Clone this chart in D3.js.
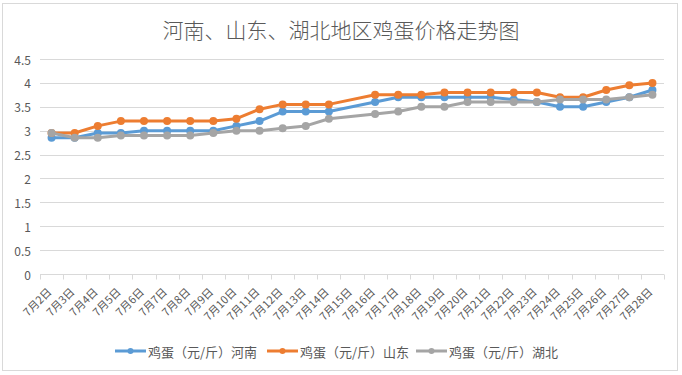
<!DOCTYPE html>
<html>
<head>
<meta charset="utf-8">
<script src="https://cdn.jsdelivr.net/npm/d3@7"></script>
<style>
  body { margin: 0; background: #fff; }
  text { font-family: "Noto Sans CJK SC", "Noto Sans", sans-serif; fill: #595959; }
</style>
</head>
<body>
<svg id="chart" width="682" height="375"></svg>
<script>
var title = "河南、山东、湖北地区鸡蛋价格走势图";
var days = ["7月2日", "7月3日", "7月4日", "7月5日", "7月6日", "7月7日", "7月8日", "7月9日", "7月10日",
  "7月11日", "7月12日", "7月13日", "7月14日", "7月15日", "7月16日", "7月17日", "7月18日", "7月19日",
  "7月20日", "7月21日", "7月22日", "7月23日", "7月24日", "7月25日", "7月26日", "7月27日", "7月28日"];
var henan = [2.85, 2.85, 2.95, 2.95, 3.0, 3.0, 3.0, 3.0, 3.1, 3.2, 3.4, 3.4, 3.4, null, 3.6, 3.7, 3.7, 3.7,
  3.7, 3.7, 3.65, 3.6, 3.5, 3.5, 3.6, 3.7, 3.85];
var shandong = [2.95, 2.95, 3.1, 3.2, 3.2, 3.2, 3.2, 3.2, 3.25, 3.45, 3.55, 3.55, 3.55, null, 3.75, 3.75, 3.75, 3.8,
  3.8, 3.8, 3.8, 3.8, 3.7, 3.7, 3.85, 3.95, 4.0];
var hubei = [2.95, 2.85, 2.85, 2.9, 2.9, 2.9, 2.9, 2.95, 3.0, 3.0, 3.05, 3.1, 3.25, null, 3.35, 3.4, 3.5, 3.5,
  3.6, 3.6, 3.6, 3.6, 3.65, 3.65, 3.65, 3.7, 3.75];
var seriesNames = ["鸡蛋（元/斤）河南", "鸡蛋（元/斤）山东", "鸡蛋（元/斤）湖北"];
var colors = ["#5b9bd5", "#ed7d31", "#a5a5a5"];
var yTicks = [0, 0.5, 1, 1.5, 2, 2.5, 3, 3.5, 4, 4.5];

var svg = d3.select("#chart");

// border round the chart area
svg.append("rect")
  .attr("x", 2.5).attr("y", 3.5)
  .attr("width", 675).attr("height", 367)
  .attr("fill", "none").attr("stroke", "#d9d9d9");

svg.append("text")
  .attr("x", 341).attr("y", 29)
  .attr("text-anchor", "middle").attr("dominant-baseline", "central")
  .style("font-size", "21px").style("font-weight", 300)
  .text(title);

var x = d3.scaleBand().domain(days).range([40, 664]);
var y = d3.scaleLinear().domain([0, 4.5]).range([274, 59]);
var cx = function(d) { return x(d) + x.bandwidth() / 2; };

// grid
svg.append("g").selectAll("line").data(yTicks.filter(t => t > 0)).enter().append("line")
  .attr("x1", 40).attr("x2", 664)
  .attr("y1", d => Math.round(y(d)) + 0.5).attr("y2", d => Math.round(y(d)) + 0.5)
  .attr("stroke", "#d9d9d9");

svg.append("g").selectAll("text").data(yTicks).enter().append("text")
  .attr("x", 31).attr("y", d => y(d))
  .attr("text-anchor", "end").attr("dominant-baseline", "central")
  .style("font-size", "12px")
  .text(d => d);

// x axis with ticks between categories
var xAxis = svg.append("g").attr("transform", "translate(0," + (Math.round(y(0)) + 0.5) + ")");
xAxis.append("line").attr("x1", 40).attr("x2", 664).attr("stroke", "#d9d9d9");
xAxis.selectAll("line.tick").data(days.concat([null])).enter().append("line")
  .attr("class", "tick")
  .attr("x1", (d, i) => Math.round(40 + i * x.step()) + 0.5)
  .attr("x2", (d, i) => Math.round(40 + i * x.step()) + 0.5)
  .attr("y1", 0).attr("y2", 5)
  .attr("stroke", "#d9d9d9");

svg.append("g").selectAll("text").data(days).enter().append("text")
  .attr("transform", d => "translate(" + (cx(d) - 2) + ",290) rotate(-45)")
  .attr("text-anchor", "end").attr("dy", "0.35em")
  .style("font-size", "11px")
  .text(d => d);

// series
var line = d3.line().x(d => cx(d.day)).y(d => y(d.v));
[henan, shandong, hubei].forEach(function(vals, k) {
  var pts = vals.map((v, i) => ({ day: days[i], v: v })).filter(d => d.v != null);
  var g = svg.append("g");
  g.append("path").datum(pts)
    .attr("d", line)
    .attr("fill", "none").attr("stroke", colors[k])
    .attr("stroke-width", 3).attr("stroke-linejoin", "round");
  g.selectAll("circle").data(pts).enter().append("circle")
    .attr("cx", d => cx(d.day)).attr("cy", d => y(d.v))
    .attr("r", 4).attr("fill", colors[k]);
});

// legend
var legendX = [115, 267, 416];
var legend = svg.append("g").selectAll("g").data(seriesNames).enter().append("g")
  .attr("transform", (d, i) => "translate(" + legendX[i] + ",351)");
legend.append("line").attr("x1", 0).attr("x2", 31)
  .attr("stroke", (d, i) => colors[i]).attr("stroke-width", 3);
legend.append("circle").attr("cx", 15.5).attr("r", 3)
  .attr("fill", (d, i) => colors[i]);
legend.append("text").attr("x", 33).attr("dominant-baseline", "central")
  .style("font-size", "13px")
  .text(d => d);
</script>
</body>
</html>
